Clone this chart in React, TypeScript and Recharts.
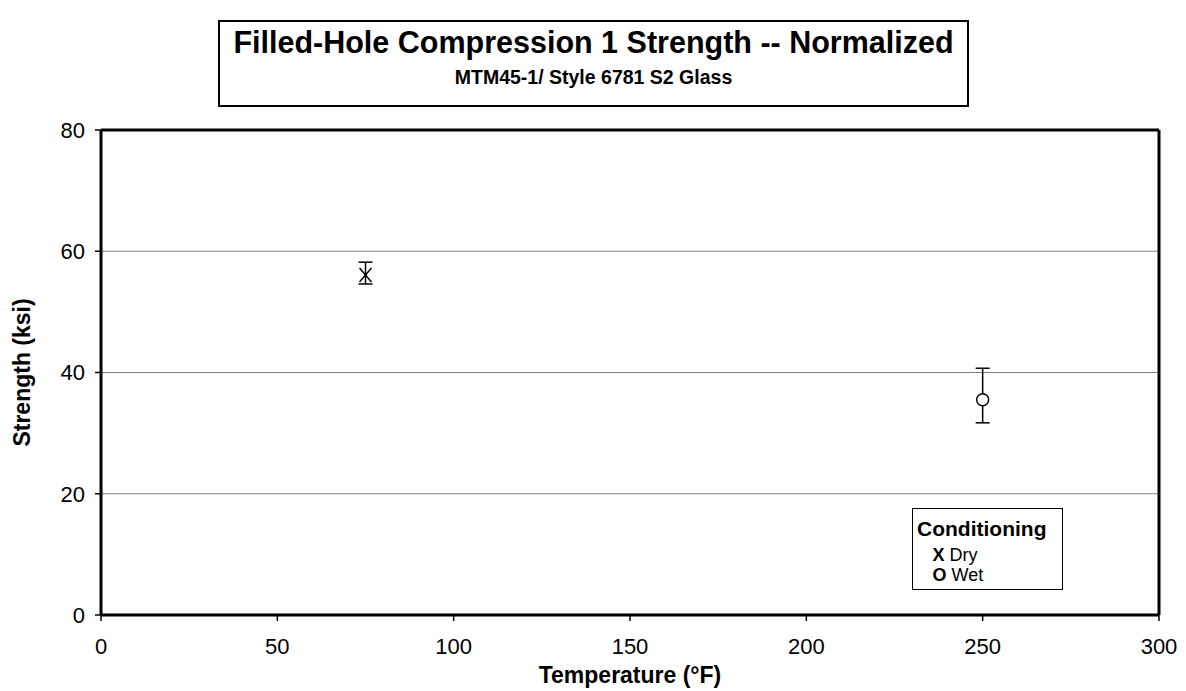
import React from 'react';
import { ScatterChart, Scatter, XAxis, YAxis, CartesianGrid, ErrorBar, ReferenceLine } from 'recharts';

// values
const dryTemp = [75];
const dryMean = [56.1];
const dryLow = [54.6];
const dryHigh = [58.2];

const wetTemp = [250];
const wetMean = [35.5];
const wetLow = [31.7];
const wetHigh = [40.7];

const xTicks = [0, 50, 100, 150, 200, 250, 300];
const yTicks = [0, 20, 40, 60, 80];

const build = (t: number[], m: number[], lo: number[], hi: number[]) =>
  t.map((x, i) => ({ x, y: m[i], err: [m[i] - lo[i], hi[i] - m[i]] }));

const dryData = build(dryTemp, dryMean, dryLow, dryHigh);
const wetData = build(wetTemp, wetMean, wetLow, wetHigh);

const FONT = '"Liberation Sans", Arial, sans-serif';

const XMark = (p: any) => {
  const { cx, cy } = p;
  return (
    <g>
      <line x1={cx - 6} y1={cy - 7} x2={cx + 6} y2={cy + 7} stroke="#000" strokeWidth={1.5} />
      <line x1={cx - 6} y1={cy + 7} x2={cx + 6} y2={cy - 7} stroke="#000" strokeWidth={1.5} />
    </g>
  );
};

const OMark = (p: any) => {
  const { cx, cy } = p;
  return <circle cx={cx} cy={cy} r={6} fill="#fff" stroke="#000" strokeWidth={1.5} />;
};

const tickStyle = { fill: '#000', fontSize: 22, fontFamily: FONT };
const axisTitle = { fill: '#000', fontSize: 23, fontWeight: 'bold', fontFamily: FONT };

export default function App() {
  return (
    <div style={{ position: 'absolute', left: 0, top: 0, width: 1186, height: 691, background: '#fff', fontFamily: FONT }}>
      <ScatterChart width={1186} height={691} margin={{ top: 130, right: 27, bottom: 0, left: 0 }}>
        <CartesianGrid vertical={false} stroke="#808080" strokeWidth={1.2} />
        <XAxis
          type="number"
          dataKey="x"
          domain={[0, 300]}
          ticks={xTicks}
          height={76}
          tick={tickStyle}
          tickLine={{ stroke: '#000', strokeWidth: 1.5 }}
          tickSize={6}
          tickMargin={17}
          axisLine={{ stroke: '#000', strokeWidth: 3 }}
          label={{ value: 'Temperature (°F)', position: 'insideBottom', offset: 8, style: axisTitle }}
        />
        <YAxis
          type="number"
          dataKey="y"
          domain={[0, 80]}
          ticks={yTicks}
          width={101}
          tick={tickStyle}
          tickLine={{ stroke: '#000', strokeWidth: 1.5 }}
          tickSize={6}
          tickMargin={10}
          axisLine={{ stroke: '#000', strokeWidth: 3 }}
          label={{ value: 'Strength (ksi)', angle: -90, position: 'insideLeft', offset: 22, style: { ...axisTitle, textAnchor: 'middle' } }}
        />
        <ReferenceLine y={80} stroke="#000" strokeWidth={3} />
        <ReferenceLine x={300} stroke="#000" strokeWidth={3} />
        <Scatter data={dryData} shape={XMark} isAnimationActive={false}>
          <ErrorBar dataKey="err" direction="y" width={7} stroke="#000" strokeWidth={1.5} />
        </Scatter>
        <Scatter data={wetData} shape={OMark} isAnimationActive={false}>
          <ErrorBar dataKey="err" direction="y" width={7} stroke="#000" strokeWidth={1.5} />
        </Scatter>
      </ScatterChart>

      <div style={{ position: 'absolute', left: 218, top: 20, width: 747, height: 82.5, border: '2.5px solid #000', background: '#fff', textAlign: 'center', fontWeight: 'bold' }}>
        <div style={{ fontSize: 30.5, marginTop: 3, lineHeight: '34px' }}>Filled-Hole Compression 1 Strength -- Normalized</div>
        <div style={{ fontSize: 19.5, marginTop: 7, lineHeight: '22px' }}>MTM45-1/ Style 6781 S2 Glass</div>
      </div>

      <div style={{ position: 'absolute', left: 912, top: 508, width: 149, height: 80, border: '1.5px solid #000', background: '#fff' }}>
        <div style={{ fontSize: 21, fontWeight: 'bold', marginLeft: 4, marginTop: 7.5, lineHeight: '24px' }}>Conditioning</div>
        <div style={{ fontSize: 18, marginLeft: 19.5, marginTop: 5, lineHeight: '19.5px' }}><b>X</b> Dry</div>
        <div style={{ fontSize: 18, marginLeft: 19.5, marginTop: 1, lineHeight: '19.5px' }}><b>O</b> Wet</div>
      </div>
    </div>
  );
}
